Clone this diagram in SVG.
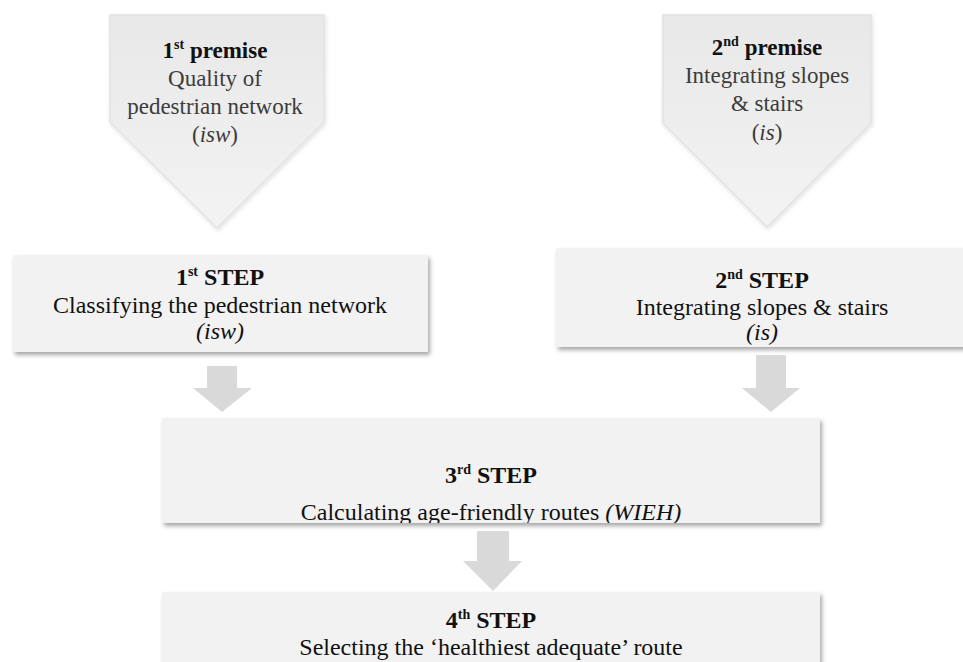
<svg xmlns="http://www.w3.org/2000/svg" width="963" height="662" viewBox="0 0 963 662">
<defs>
<style>
text{font-family:"Liberation Serif","Times New Roman",serif;text-anchor:middle;fill:#111}
.b{font-weight:bold}
.p{font-size:23px;fill:#3c3c3c}
.pb{font-size:23px;font-weight:bold;fill:#111}
.s{font-size:24px}
.i{font-style:italic}
.sup{font-size:14px;baseline-shift:9px}
.box{fill:#f2f2f2;filter:url(#sh)}
.pent{fill:url(#pg);stroke:#e2e2e2;stroke-width:1.5;filter:url(#sh2)}
.arr{fill:#d9d9d9}
</style>
<linearGradient id="pg" x1="0" y1="0" x2="0" y2="1">
<stop offset="0" stop-color="#e8e8e8"/>
<stop offset="1" stop-color="#f3f3f3"/>
</linearGradient>
<filter id="sh" x="-5%" y="-10%" width="115%" height="130%">
<feDropShadow dx="2" dy="3" stdDeviation="2" flood-color="#000" flood-opacity="0.35"/>
</filter>
<filter id="sh2" x="-10%" y="-10%" width="120%" height="125%">
<feDropShadow dx="1" dy="2" stdDeviation="2" flood-color="#000" flood-opacity="0.12"/>
</filter>
<clipPath id="c3"><rect x="150" y="410" width="700" height="113"/></clipPath>
</defs>

<g id="premise1">
<path class="pent" d="M110 15 H324 V122 L217 228 L110 122 Z"/>
<text class="pb" x="215" y="58">1<tspan class="sup">st</tspan> premise</text>
<text class="p" x="215" y="86">Quality of</text>
<text class="p" x="215" y="114">pedestrian network</text>
<text class="p" x="215" y="142">(<tspan class="i">isw</tspan>)</text>
</g>

<g id="premise2">
<path class="pent" d="M663 15 H871 V123 L767 227 L663 123 Z"/>
<text class="pb" x="767" y="55">2<tspan class="sup">nd</tspan> premise</text>
<text class="p" x="767" y="83">Integrating slopes</text>
<text class="p" x="767" y="111">&amp; stairs</text>
<text class="p" x="767" y="140">(<tspan class="i">is</tspan>)</text>
</g>

<g id="step1">
<rect class="box" x="13" y="255" width="415" height="97"/>
<text class="s b" x="220" y="285">1<tspan class="sup">st</tspan> STEP</text>
<text class="s" x="220" y="313">Classifying the pedestrian network</text>
<text class="s i" x="220" y="339">(isw)</text>
</g>

<g id="step2">
<rect class="box" x="556" y="248" width="412" height="99"/>
<text class="s b" x="762" y="288">2<tspan class="sup">nd</tspan> STEP</text>
<text class="s" x="762" y="315">Integrating slopes &amp; stairs</text>
<text class="s i" x="762" y="340">(is)</text>
</g>

<g id="connectors">
<path class="arr" d="M207 366 H237 V388 H252 L222 412 L193 388 H207 Z"/>
<path class="arr" d="M756 355 H786 V388 H800 L771 412 L742 388 H756 Z"/>
<path class="arr" d="M477 531 H509 V561 H522 L493 591 L463 561 H477 Z"/>
</g>

<g id="step3">
<rect class="box" x="162" y="418" width="658" height="105"/>
<g clip-path="url(#c3)">
<text class="s b" x="491" y="483">3<tspan class="sup">rd</tspan> STEP</text>
<text class="s" x="491" y="520">Calculating age-friendly routes <tspan class="i">(WIEH)</tspan></text>
</g>
</g>

<g id="step4">
<rect class="box" x="162" y="592" width="658" height="80"/>
<text class="s b" x="491" y="628">4<tspan class="sup">th</tspan> STEP</text>
<text class="s" x="491" y="655">Selecting the ‘healthiest adequate’ route</text>
</g>
</svg>
